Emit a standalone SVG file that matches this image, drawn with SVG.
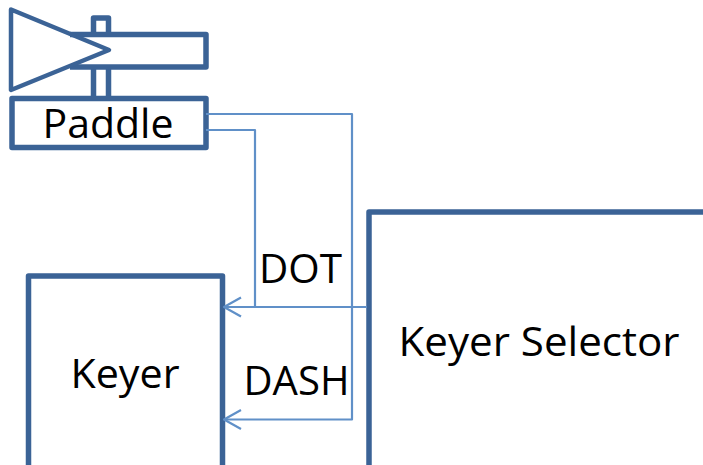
<svg xmlns="http://www.w3.org/2000/svg" width="703" height="465" viewBox="0 0 703 465">
<style>
.b{fill:none;stroke:#3b6396;stroke-width:5.500;stroke-linejoin:round}
.t{stroke-width:4.500}
.c{fill:none;stroke:#6090c8;stroke-width:2.200;stroke-linejoin:round}
text{font-family:"Open Sans","Noto Sans","Liberation Sans",sans-serif;font-size:40px;fill:#000}
</style>
<rect width="703" height="465" fill="#fff"/>
<g id="paddle-handle">
<path class="b" d="M93.500 33V18H108.500V33M93.500 67V98M108.500 67V98"/>
<path class="b" d="M70 34.500H206V67H70"/>
<path class="b t" d="M11 9.500L109 50L11 90Z"/>
</g>
<g id="paddle">
<rect class="b" x="12" y="98.500" width="194" height="49"/>
<text x="108" y="138" text-anchor="middle" textLength="131" lengthAdjust="spacingAndGlyphs">Paddle</text>
</g>
<g id="keyer">
<path class="b" d="M28.500 467V276H222.500V467"/>
<text x="125" y="388" text-anchor="middle" textLength="109" lengthAdjust="spacingAndGlyphs">Keyer</text>
</g>
<g id="keyer-selector">
<path class="b" d="M369 467V212H705"/>
<text x="539" y="356" text-anchor="middle" textLength="281" lengthAdjust="spacingAndGlyphs">Keyer Selector</text>
</g>
<g id="connectors">
<path class="c" d="M206 114H352V419.500H224"/>
<path class="c" d="M206 130H255V307"/>
<path class="c" d="M367 307H224"/>
<path class="c" d="M241 297.500L224 307L241 316.500"/>
<path class="c" d="M241 410L224 419.500L241 429"/>
</g>
<g id="labels">
<text x="300.500" y="283" text-anchor="middle" textLength="83" lengthAdjust="spacingAndGlyphs">DOT</text>
<text x="296.500" y="395" text-anchor="middle" textLength="106" lengthAdjust="spacingAndGlyphs">DASH</text>
</g>
</svg>
